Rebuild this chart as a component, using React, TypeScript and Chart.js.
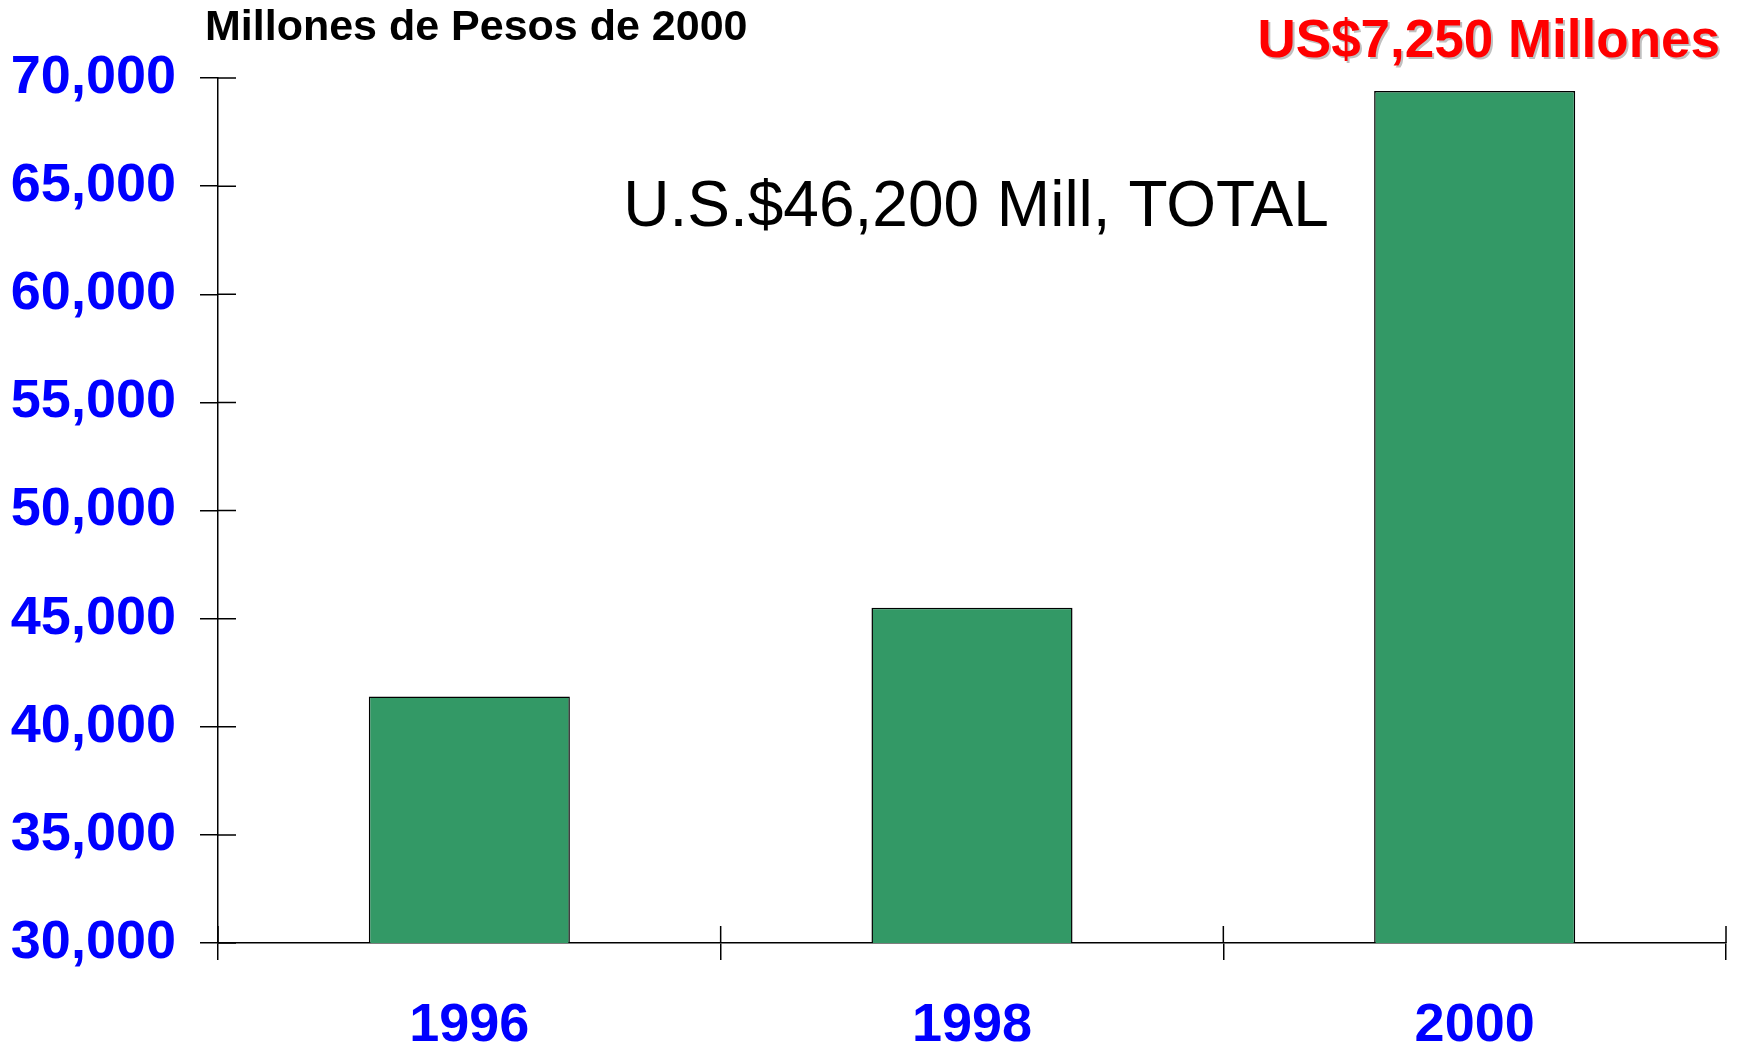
import React, { useEffect, useRef } from 'react';
import { Chart, registerables } from 'chart.js';

Chart.register(...registerables);

const categories: string[] = ['1996', '1998', '2000'];
const values: number[] = [41400, 45500, 69400];
const yMin = 30000;
const yMax = 70000;
const yStep = 5000;
const unitsTitle = 'Millones de Pesos de 2000';
const totalNote = 'U.S.$46,200 Mill, TOTAL';
const lastNote = 'US$7,250 Millones';

const FONT = 'Arial, "Liberation Sans", Helvetica, sans-serif';

const innerTicks = {
  id: 'innerTicks',
  afterDatasetsDraw(chart: any) {
    const { ctx, chartArea, scales } = chart;
    const x = scales.x;
    const y = scales.y;
    ctx.save();
    ctx.strokeStyle = '#000';
    ctx.lineWidth = 1.5;
    ctx.beginPath();
    y.ticks.forEach((t: any) => {
      const py = y.getPixelForValue(t.value);
      ctx.moveTo(chartArea.left, py);
      ctx.lineTo(chartArea.left + 18, py);
    });
    for (let i = 0; i <= categories.length; i++) {
      const px = x.getPixelForValue(i - 0.5);
      ctx.moveTo(px, chartArea.bottom);
      ctx.lineTo(px, chartArea.bottom - 17);
    }
    ctx.stroke();
    ctx.restore();
  },
};

const annotations = {
  id: 'annotations',
  afterDraw(chart: any) {
    const { ctx, chartArea } = chart;
    ctx.save();
    // units title
    ctx.font = `bold 43px ${FONT}`;
    ctx.fillStyle = '#000';
    ctx.textAlign = 'left';
    ctx.textBaseline = 'alphabetic';
    ctx.fillText(unitsTitle, chartArea.left - 13, 40);
    // center note
    ctx.font = `64px ${FONT}`;
    ctx.textAlign = 'center';
    ctx.fillText(totalNote, 976, 226);
    // red note with shadow
    ctx.font = `bold 53px ${FONT}`;
    ctx.textAlign = 'right';
    ctx.fillStyle = '#c0c0c0';
    ctx.fillText(lastNote, 1722, 59);
    ctx.fillStyle = '#ff0000';
    ctx.fillText(lastNote, 1720, 57);
    ctx.restore();
  },
};

export default function App() {
  const ref = useRef<HTMLCanvasElement | null>(null);
  useEffect(() => {
    document.body.style.margin = '0';
    const canvas = ref.current;
    if (!canvas) return;
    const chart = new Chart(canvas, {
      type: 'bar',
      data: {
        labels: categories,
        datasets: [
          {
            data: values,
            backgroundColor: '#339966',
            borderColor: '#000000',
            borderWidth: 1.5,
            barPercentage: 0.4,
            categoryPercentage: 1,
          },
        ],
      },
      options: {
        animation: false,
        responsive: false,
        devicePixelRatio: 1,
        layout: { padding: { top: 78, right: 14, left: 0, bottom: 0 } },
        plugins: {
          legend: { display: false },
          title: { display: false },
          tooltip: { enabled: false },
        },
        scales: {
          x: {
            offset: true,
            grid: {
              display: true,
              offset: true,
              drawOnChartArea: false,
              drawTicks: true,
              tickLength: 17,
              color: '#000',
              lineWidth: 1.5,
            },
            border: { display: true, color: '#000', width: 1.5 },
            ticks: {
              color: '#0000ff',
              font: { family: FONT, size: 54, weight: 'bold' },
              padding: 34,
              maxRotation: 0,
            },
            afterFit(scale: any) {
              scale.height = 104;
            },
          },
          y: {
            min: yMin,
            max: yMax,
            grid: {
              display: true,
              drawOnChartArea: false,
              drawTicks: true,
              tickLength: 18,
              color: '#000',
              lineWidth: 1.5,
            },
            border: { display: true, color: '#000', width: 1.5 },
            ticks: {
              stepSize: yStep,
              color: '#0000ff',
              font: { family: FONT, size: 54, weight: 'bold' },
              padding: 24,
              callback: (v: any) => Number(v).toLocaleString('en-US'),
            },
            afterFit(scale: any) {
              scale.width = 218;
            },
          },
        },
      },
      plugins: [innerTicks, annotations],
    });
    return () => chart.destroy();
  }, []);
  return (
    <div style={{ position: 'absolute', left: 0, top: 0, width: 1740, height: 1047, background: '#fff' }}>
      <canvas ref={ref} width={1740} height={1047} style={{ width: 1740, height: 1047, display: 'block' }} />
    </div>
  );
}
